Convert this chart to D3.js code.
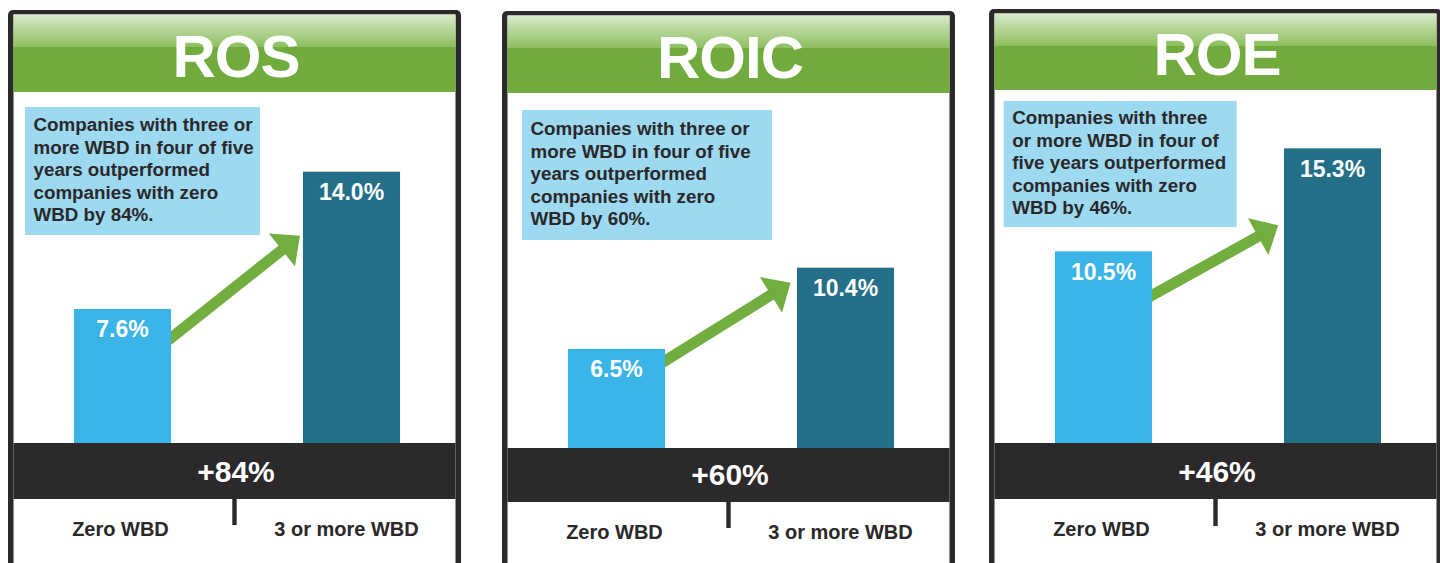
<!DOCTYPE html>
<html>
<head>
<meta charset="utf-8">
<script src="https://cdn.jsdelivr.net/npm/d3@7"></script>
<style>
  html, body { margin: 0; padding: 0; background: #ffffff; }
  svg { display: block; }
  text { font-family: "Liberation Sans", Arial, Helvetica, sans-serif; font-weight: bold; }
</style>
</head>
<body>
<svg id="chart" width="1440" height="563"></svg>
<script>
// ---------------- DATA ----------------
const panelTitles = ["ROS", "ROIC", "ROE"];
const categories = ["Zero WBD", "3 or more WBD"];
const zeroWBDValues = [7.6, 6.5, 10.5];
const threePlusWBDValues = [14.0, 10.4, 15.3];
const upliftLabels = ["+84%", "+60%", "+46%"];
const calloutLines = [
  ["Companies with three or", "more WBD in four of five", "years outperformed", "companies with zero", "WBD by 84%."],
  ["Companies with three or", "more WBD in four of five", "years outperformed", "companies with zero", "WBD by 60%."],
  ["Companies with three", "or more WBD in four of", "five years outperformed", "companies with zero", "WBD by 46%."]
];

// ---------------- LAYOUT ----------------
const panelLayout = [
  { left: 8,   top: 10, headerBottom: 92, base: 443, bandBottom: 499, labelBase: 536, tickBottom: 525,
    yZero: 1.35, pxPerUnit: 21.45,
    box: { x: 17, y: 107, w: 235, h: 128, firstBase: 24 },
    arrow: { startDrop: 29, tipDrop: 64, tipGap: 3 } },
  { left: 502, top: 11, headerBottom: 93, base: 448, bandBottom: 502, labelBase: 539, tickBottom: 528,
    yZero: 1.75, pxPerUnit: 20.85,
    box: { x: 20, y: 110, w: 250, h: 130, firstBase: 25 },
    arrow: { startDrop: 12, tipDrop: 15, tipGap: 6.5 } },
  { left: 989, top: 9, headerBottom: 90, base: 443, bandBottom: 499, labelBase: 536, tickBottom: 526,
    yZero: 1.57, pxPerUnit: 21.46,
    box: { x: 14.7, y: 101, w: 233, h: 126, firstBase: 23 },
    arrow: { startDrop: 44, tipDrop: 77, tipGap: 5.7 } }
];
const panelWidth = 453;
const border = 5.5;
const colors = {
  frame: "#2b292a", greenTop: "#d9eacb", greenMid: "#8dbf5e", greenSolid: "#71ab3e",
  box: "#9ed9f2", text: "#2a2829", bar1: "#3ab4e6", bar2: "#236f87", arrow: "#72ad3f"
};

const svg = d3.select("#chart");
const defs = svg.append("defs");
const grad = defs.append("linearGradient").attr("id", "hdr").attr("x1", 0).attr("y1", 0).attr("x2", 0).attr("y2", 1);
grad.append("stop").attr("offset", 0).attr("stop-color", colors.greenTop);
grad.append("stop").attr("offset", 0.42).attr("stop-color", colors.greenMid);
grad.append("stop").attr("offset", 0.42).attr("stop-color", colors.greenSolid);
grad.append("stop").attr("offset", 1).attr("stop-color", colors.greenSolid);

panelTitles.forEach((title, i) => {
  const L = panelLayout[i];
  const g = svg.append("g").attr("transform", `translate(${L.left},0)`);
  const innerL = border, innerR = panelWidth - border;

  // frame
  g.append("rect").attr("x", 0).attr("y", L.top).attr("width", panelWidth).attr("height", 620)
    .attr("rx", 5).attr("fill", colors.frame);
  g.append("rect").attr("x", innerL).attr("y", L.top + 4.5).attr("width", innerR - innerL).attr("height", 620)
    .attr("fill", "#ffffff");
  // header
  g.append("rect").attr("x", innerL).attr("y", L.top + 4.5).attr("width", innerR - innerL)
    .attr("height", L.headerBottom - (L.top + 4.5)).attr("fill", "url(#hdr)");
  g.append("text").attr("x", panelWidth / 2 + 1.5).attr("y", L.headerBottom - 15)
    .attr("text-anchor", "middle").attr("fill", "#ffffff").attr("font-size", 60)
    .attr("letter-spacing", -1).text(title);

  // scales
  const x = d3.scaleBand().domain(categories).range([0, 458]).paddingInner(0.576).paddingOuter(0.288);
  const y = d3.scaleLinear().domain([L.yZero, L.yZero + 10]).range([L.base, L.base - 10 * L.pxPerUnit]);
  const vals = [zeroWBDValues[i], threePlusWBDValues[i]];
  const bw = x.bandwidth();

  // callout box
  g.append("rect").attr("x", L.box.x).attr("y", L.box.y).attr("width", L.box.w).attr("height", L.box.h)
    .attr("fill", colors.box);
  const t = g.append("text").attr("fill", colors.text).attr("font-size", 18.8);
  calloutLines[i].forEach((line, k) => {
    t.append("tspan").attr("x", L.box.x + 8.5).attr("y", L.box.y + L.box.firstBase + k * 22.5).text(line);
  });

  // arrow (behind bars)
  const sx = x(categories[0]) + bw - 12, sy0 = y(vals[0]) + L.arrow.startDrop;
  const tx = x(categories[1]) - L.arrow.tipGap, ty = y(vals[1]) + L.arrow.tipDrop;
  const ex = x(categories[0]) + bw;
  const ang = Math.atan2(ty - sy0, tx - ex);
  const ux = Math.cos(ang), uy = Math.sin(ang);
  const sy = sy0 - (ex - sx) * Math.tan(ang);
  const headLen = 23, headHalf = 21;
  const bx = tx - ux * headLen, by = ty - uy * headLen;
  g.append("line").attr("x1", sx).attr("y1", sy).attr("x2", bx + ux * 2).attr("y2", by + uy * 2)
    .attr("stroke", colors.arrow).attr("stroke-width", 11);
  g.append("path").attr("d", d3.line()([
    [tx, ty], [bx - uy * headHalf, by + ux * headHalf], [bx + uy * headHalf, by - ux * headHalf]
  ]) + "Z").attr("fill", colors.arrow);

  // bars
  g.selectAll("rect.bar").data(vals).enter().append("rect").attr("class", "bar")
    .attr("x", (d, k) => x(categories[k])).attr("y", d => y(d))
    .attr("width", bw).attr("height", d => L.base - y(d))
    .attr("fill", (d, k) => k === 0 ? colors.bar1 : colors.bar2);
  g.selectAll("text.val").data(vals).enter().append("text").attr("class", "val")
    .attr("x", (d, k) => x(categories[k]) + bw / 2).attr("y", d => y(d) + 28.5)
    .attr("text-anchor", "middle").attr("fill", "#ffffff").attr("font-size", 23)
    .text(d => d.toFixed(1) + "%");

  // bottom band
  g.append("rect").attr("x", innerL).attr("y", L.base).attr("width", innerR - innerL)
    .attr("height", L.bandBottom - L.base).attr("fill", colors.frame);
  g.append("text").attr("x", panelWidth / 2 + 1.5).attr("y", L.bandBottom - 17.5)
    .attr("text-anchor", "middle").attr("fill", "#ffffff").attr("font-size", 30)
    .text(upliftLabels[i]);
  g.append("rect").attr("x", panelWidth / 2 - 2.2).attr("y", L.bandBottom - 1).attr("width", 4.4)
    .attr("height", L.tickBottom - L.bandBottom + 1).attr("fill", colors.frame);

  // category labels
  g.selectAll("text.cat").data(categories).enter().append("text").attr("class", "cat")
    .attr("x", (d, k) => x(d) + bw / 2 - (k === 0 ? 2 : 5)).attr("y", L.labelBase)
    .attr("text-anchor", "middle").attr("fill", colors.text).attr("font-size", 20)
    .text(d => d);
});
</script>
</body>
</html>
